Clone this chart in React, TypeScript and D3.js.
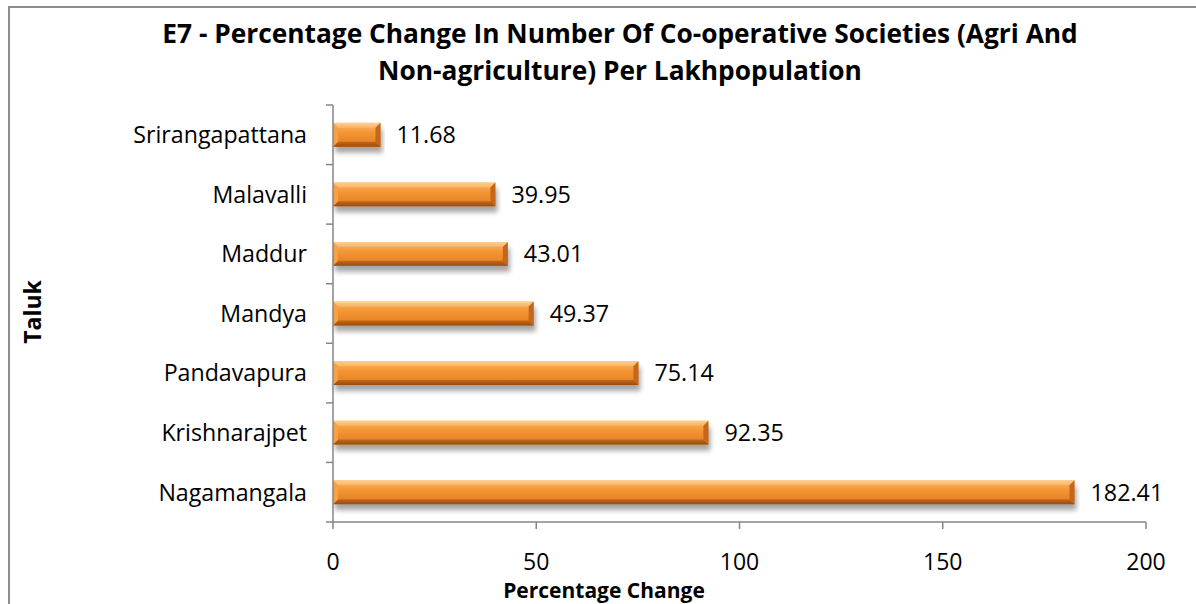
import React from "react";
import * as d3 from "d3";

// Taluks listed top to bottom as drawn
const taluks = [
  "Srirangapattana",
  "Malavalli",
  "Maddur",
  "Mandya",
  "Pandavapura",
  "Krishnarajpet",
  "Nagamangala",
];
const changeValues = [11.68, 39.95, 43.01, 49.37, 75.14, 92.35, 182.41];
const xTickValues = [0, 50, 100, 150, 200];

const titleLines = [
  "E7 - Percentage Change In Number Of Co-operative Societies (Agri And",
  "Non-agriculture) Per Lakhpopulation",
];
const xAxisTitle = "Percentage Change";
const yAxisTitle = "Taluk";

const W = 1196;
const H = 604;
const FONT = "'Open Sans', Lato, sans-serif";
const AXIS = "#868686";

export default function App() {
  const x = d3.scaleLinear().domain([0, 200]).range([333, 1146]);
  const y = d3.scaleBand<string>().domain(taluks).range([105, 522]).padding(0);
  const step = y.step();
  const barH = step * 0.4;
  const bev = 5;

  const boundaries = d3.range(taluks.length + 1).map((i) => 105 + i * step);

  return (
    <div style={{ position: "fixed", left: 0, top: 0, width: W, height: H, background: "#fff" }}>
      <svg width={W} height={H} style={{ display: "block" }}>
        <defs>
          <linearGradient id="barFace" x1="0" y1="0" x2="0" y2="1">
            <stop offset="0" stopColor="#fbb363" />
            <stop offset="0.45" stopColor="#f39331" />
            <stop offset="1" stopColor="#e27d20" />
          </linearGradient>
          <linearGradient id="barTop" x1="0" y1="0" x2="0" y2="1">
            <stop offset="0" stopColor="#fdcf94" />
            <stop offset="1" stopColor="#f9b462" />
          </linearGradient>
          <linearGradient id="barBottom" x1="0" y1="0" x2="0" y2="1">
            <stop offset="0" stopColor="#c3661b" />
            <stop offset="1" stopColor="#984d12" />
          </linearGradient>
          <filter id="barShadow" x="-5%" y="-60%" width="110%" height="220%">
            <feGaussianBlur stdDeviation="2.5" />
          </filter>
        </defs>

        <rect x={9} y={7} width={1200} height={620} fill="#fff" stroke="#8c8c8c" strokeWidth={2} />

        <g fontFamily={FONT} fontWeight="bold" fontSize={26.3} fill="#000" textAnchor="middle">
          {titleLines.map((t, i) => (
            <text key={i} x={620} y={43 + i * 37}>
              {t}
            </text>
          ))}
        </g>

        {/* bars with bevelled ends and a soft drop shadow */}
        {taluks.map((t, i) => {
          const v = changeValues[i];
          const x0 = x(0);
          const x1 = x(v);
          const yc = (y(t) as number) + step / 2;
          const y0 = yc - barH / 2;
          const y1 = yc + barH / 2;
          return (
            <g key={t}>
              <rect
                x={x0 + 2}
                y={y0 + 6}
                width={x1 - x0}
                height={barH}
                fill="#000"
                opacity={0.35}
                filter="url(#barShadow)"
              />
              <rect x={x0} y={y0} width={x1 - x0} height={barH} fill="url(#barFace)" />
              <polygon
                points={`${x0},${y0} ${x1},${y0} ${x1 - bev},${y0 + bev} ${x0 + bev},${y0 + bev}`}
                fill="url(#barTop)"
              />
              <polygon
                points={`${x0},${y1} ${x1},${y1} ${x1 - bev},${y1 - bev} ${x0 + bev},${y1 - bev}`}
                fill="url(#barBottom)"
              />
              <polygon
                points={`${x0},${y0} ${x0 + bev},${y0 + bev} ${x0 + bev},${y1 - bev} ${x0},${y1}`}
                fill="#f7a04a"
              />
              <polygon
                points={`${x1},${y0} ${x1 - bev},${y0 + bev} ${x1 - bev},${y1 - bev} ${x1},${y1}`}
                fill="#c4661c"
              />
              <text
                x={x1 + 16}
                y={yc}
                dy="0.36em"
                fontFamily={FONT}
                fontSize={23.3}
                fill="#000"
              >
                {d3.format(".2f")(v)}
              </text>
            </g>
          );
        })}

        {/* y axis */}
        <line x1={x(0)} x2={x(0)} y1={105} y2={522} stroke={AXIS} strokeWidth={1.5} />
        {boundaries.map((b, i) => (
          <line key={i} x1={x(0) - 7} x2={x(0)} y1={b} y2={b} stroke={AXIS} strokeWidth={1.5} />
        ))}
        {taluks.map((t) => (
          <text
            key={t}
            x={307}
            y={(y(t) as number) + step / 2}
            dy="0.36em"
            textAnchor="end"
            fontFamily={FONT}
            fontSize={23.2}
            fill="#000"
          >
            {t}
          </text>
        ))}

        {/* x axis */}
        <line x1={x(0)} x2={x(200)} y1={522} y2={522} stroke={AXIS} strokeWidth={1.5} />
        {xTickValues.map((v) => (
          <g key={v}>
            <line x1={x(v)} x2={x(v)} y1={522} y2={529} stroke={AXIS} strokeWidth={1.5} />
            <text x={x(v)} y={570} textAnchor="middle" fontFamily={FONT} fontSize={23} fill="#000">
              {v}
            </text>
          </g>
        ))}

        <text
          x={604}
          y={598}
          textAnchor="middle"
          fontFamily={FONT}
          fontWeight="bold"
          fontSize={21}
          fill="#000"
        >
          {xAxisTitle}
        </text>
        <text
          transform="translate(41,312) rotate(-90)"
          textAnchor="middle"
          fontFamily={FONT}
          fontWeight="bold"
          fontSize={23}
          fill="#000"
        >
          {yAxisTitle}
        </text>
      </svg>
    </div>
  );
}
